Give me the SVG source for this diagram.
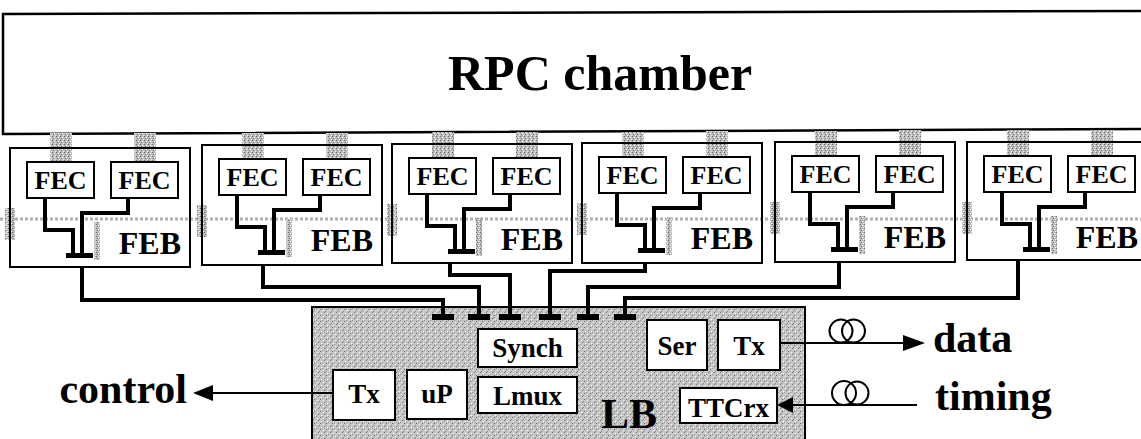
<svg xmlns="http://www.w3.org/2000/svg" width="1141" height="439" viewBox="0 0 1141 439">
<style>
.t{font-family:"Liberation Serif","Times New Roman",serif;font-weight:bold;fill:#000}
.box{fill:#fff;stroke:#000;stroke-width:2}
.feb{fill:none;stroke:#000;stroke-width:2}
.w{fill:none;stroke:#000;stroke-width:4;stroke-linejoin:miter}
.thin{fill:none;stroke:#000;stroke-width:2}
.stub{fill:url(#stip2)}
.gv{fill:url(#stip2)}
.fec{font-size:26px;text-anchor:middle}
.febt{font-size:32px;text-anchor:end}
.lbt{font-size:27px;text-anchor:middle}
.big{font-size:42px}
</style>
<defs>
<pattern id="stip" width="6" height="6" patternUnits="userSpaceOnUse">
<rect width="6" height="6" fill="#c6c6c6"/>
<rect x="0" y="0" width="1" height="1" fill="#777"/>
<rect x="3" y="1" width="1" height="1" fill="#fff"/>
<rect x="2" y="3" width="1" height="1" fill="#666"/>
<rect x="5" y="4" width="1" height="1" fill="#eee"/>
<rect x="1" y="5" width="1" height="1" fill="#888"/>
<rect x="4" y="2" width="1" height="1" fill="#999"/>
</pattern>
<pattern id="stip2" width="4" height="4" patternUnits="userSpaceOnUse">
<rect width="4" height="4" fill="#bdbdbd"/>
<rect x="0" y="0" width="1" height="1" fill="#666"/>
<rect x="2" y="1" width="1" height="1" fill="#fff"/>
<rect x="1" y="2" width="1" height="1" fill="#777"/>
<rect x="3" y="3" width="1" height="1" fill="#eee"/>
</pattern>
</defs>
<rect width="1141" height="439" fill="#fff"/>

<g id="chamber">
<path d="M1141,11 L3,14 L3,134 L1141,129" fill="none" stroke="#000" stroke-width="2.5"/>
<text class="t" x="448" y="90" style="font-size:50px">RPC chamber</text>
</g>

<g id="gray-links">
<line x1="0" y1="219" x2="1141" y2="219" stroke="#b0b0b0" stroke-width="3" stroke-dasharray="3 2"/>
<rect class="stub" x="50" y="133" width="22" height="29"/><rect class="stub" x="134" y="133" width="22" height="29"/>
<rect class="stub" x="242" y="133" width="22" height="26"/><rect class="stub" x="326" y="133" width="22" height="26"/>
<rect class="stub" x="432" y="132" width="22" height="26"/><rect class="stub" x="516" y="132" width="22" height="26"/>
<rect class="stub" x="622" y="132" width="22" height="25"/><rect class="stub" x="706" y="131" width="22" height="26"/>
<rect class="stub" x="815" y="131" width="22" height="25"/><rect class="stub" x="899" y="130" width="22" height="26"/>
<rect class="stub" x="1007" y="130" width="22" height="26"/><rect class="stub" x="1091" y="130" width="22" height="26"/>
<rect class="gv" x="5" y="208" width="10" height="32"/><rect class="gv" x="94" y="222" width="6" height="38"/>
<rect class="gv" x="197" y="205" width="10" height="32"/><rect class="gv" x="286" y="219" width="6" height="38"/>
<rect class="gv" x="387" y="204" width="10" height="32"/><rect class="gv" x="476" y="218" width="6" height="38"/>
<rect class="gv" x="577" y="203" width="10" height="32"/><rect class="gv" x="666" y="217" width="6" height="38"/>
<rect class="gv" x="770" y="202" width="10" height="32"/><rect class="gv" x="859" y="216" width="6" height="38"/>
<rect class="gv" x="962" y="202" width="10" height="32"/><rect class="gv" x="1051" y="216" width="6" height="38"/>
</g>

<g id="feb1">
<rect class="feb" x="10" y="148" width="180" height="119"/>
<rect class="box" x="27" y="162" width="67" height="36"/><text class="t fec" x="60.5" y="189">FEC</text>
<rect class="box" x="111" y="162" width="67" height="36"/><text class="t fec" x="144.5" y="189">FEC</text>
<path class="w" d="M45,198 V230 H73 V255"/><path class="w" d="M128,198 V213 H82 V255"/>
<rect x="66" y="253" width="27" height="5"/>
<text class="t febt" x="181" y="254">FEB</text>
</g>
<g id="feb2">
<rect class="feb" x="202" y="145" width="180" height="120"/>
<rect class="box" x="219" y="159" width="67" height="36"/><text class="t fec" x="252.5" y="186">FEC</text>
<rect class="box" x="303" y="159" width="67" height="36"/><text class="t fec" x="336.5" y="186">FEC</text>
<path class="w" d="M237,195 V227 H265 V252"/><path class="w" d="M320,195 V210 H274 V252"/>
<rect x="258" y="250" width="27" height="5"/>
<text class="t febt" x="373" y="251">FEB</text>
</g>
<g id="feb3">
<rect class="feb" x="392" y="144" width="180" height="119"/>
<rect class="box" x="409" y="158" width="67" height="36"/><text class="t fec" x="442.5" y="185">FEC</text>
<rect class="box" x="493" y="158" width="67" height="36"/><text class="t fec" x="526.5" y="185">FEC</text>
<path class="w" d="M427,194 V226 H455 V251"/><path class="w" d="M510,194 V209 H464 V251"/>
<rect x="448" y="249" width="27" height="5"/>
<text class="t febt" x="563" y="250">FEB</text>
</g>
<g id="feb4">
<rect class="feb" x="582" y="143" width="180" height="120"/>
<rect class="box" x="599" y="157" width="67" height="36"/><text class="t fec" x="632.5" y="184">FEC</text>
<rect class="box" x="683" y="157" width="67" height="36"/><text class="t fec" x="716.5" y="184">FEC</text>
<path class="w" d="M617,193 V225 H645 V250"/><path class="w" d="M700,193 V208 H654 V250"/>
<rect x="638" y="248" width="27" height="5"/>
<text class="t febt" x="753" y="249">FEB</text>
</g>
<g id="feb5">
<rect class="feb" x="775" y="142" width="180" height="120"/>
<rect class="box" x="792" y="156" width="67" height="36"/><text class="t fec" x="825.5" y="183">FEC</text>
<rect class="box" x="876" y="156" width="67" height="36"/><text class="t fec" x="909.5" y="183">FEC</text>
<path class="w" d="M810,192 V224 H838 V249"/><path class="w" d="M893,192 V207 H847 V249"/>
<rect x="831" y="247" width="27" height="5"/>
<text class="t febt" x="946" y="248">FEB</text>
</g>
<g id="feb6">
<rect class="feb" x="967" y="142" width="180" height="118"/>
<rect class="box" x="984" y="156" width="67" height="36"/><text class="t fec" x="1017.5" y="183">FEC</text>
<rect class="box" x="1068" y="156" width="67" height="36"/><text class="t fec" x="1101.5" y="183">FEC</text>
<path class="w" d="M1002,192 V224 H1030 V249"/><path class="w" d="M1085,192 V207 H1039 V249"/>
<rect x="1023" y="247" width="27" height="5"/>
<text class="t febt" x="1138" y="248">FEB</text>
</g>

<g id="lb">
<rect x="312" y="307" width="493" height="140" fill="url(#stip)" stroke="#000" stroke-width="2"/>
<text class="t" x="601" y="428" style="font-size:42px">LB</text>
<g id="lb-synch"><rect class="box" x="478" y="329" width="99" height="38"/><text class="t lbt" x="527.5" y="357">Synch</text></g>
<g id="lb-lmux"><rect class="box" x="478" y="377" width="99" height="36"/><text class="t lbt" x="527.5" y="405">Lmux</text></g>
<g id="lb-tx-ctrl"><rect class="box" x="333" y="370" width="62" height="50"/><text class="t lbt" x="364" y="403">Tx</text></g>
<g id="lb-up"><rect class="box" x="407" y="370" width="60" height="49"/><text class="t lbt" x="437" y="403">uP</text></g>
<g id="lb-ser"><rect class="box" x="647" y="320" width="60" height="50"/><text class="t lbt" x="677" y="355">Ser</text></g>
<g id="lb-tx-data"><rect class="box" x="718" y="320" width="62" height="50"/><text class="t lbt" x="749" y="355">Tx</text></g>
<g id="lb-ttcrx"><rect class="box" x="680" y="388" width="97" height="35"/><text class="t lbt" x="728.5" y="417">TTCrx</text></g>
</g>

<g id="label-control"><text class="t big" x="187" y="403" text-anchor="end">control</text></g>
<g id="label-data"><text class="t big" x="933" y="352">data</text></g>
<g id="label-timing"><text class="t big" x="935" y="410">timing</text></g>

<g id="connectors">
<path class="w" d="M82,267 V300 H443 V316"/>
<path class="w" d="M263,265 V287 H479 V316"/>
<path class="w" d="M450,263 V275 H510 V316"/>
<path class="w" d="M645,263 V271 H550 V316"/>
<path class="w" d="M839,262 V287 H588 V316"/>
<path class="w" d="M1018,260 V298 H625 V316"/>
<rect x="432" y="314" width="22" height="6"/>
<rect x="468" y="314" width="22" height="6"/>
<rect x="499" y="314" width="22" height="6"/>
<rect x="539" y="314" width="22" height="6"/>
<rect x="577" y="314" width="22" height="6"/>
<rect x="614" y="314" width="22" height="6"/>
<line class="thin" x1="333" y1="393" x2="210" y2="393"/>
<polygon points="193,393 213,385 213,401"/>
<line class="thin" x1="780" y1="343" x2="905" y2="343"/>
<polygon points="925,343 903,335 903,351"/>
<circle class="thin" cx="841" cy="331" r="11.5"/>
<circle class="thin" cx="853.5" cy="331" r="11.5"/>
<line class="thin" x1="917" y1="405" x2="790" y2="405"/>
<polygon points="777,405 793,397 793,413"/>
<circle class="thin" cx="844" cy="393" r="12"/>
<circle class="thin" cx="857" cy="393" r="11.5"/>
</g>
</svg>
